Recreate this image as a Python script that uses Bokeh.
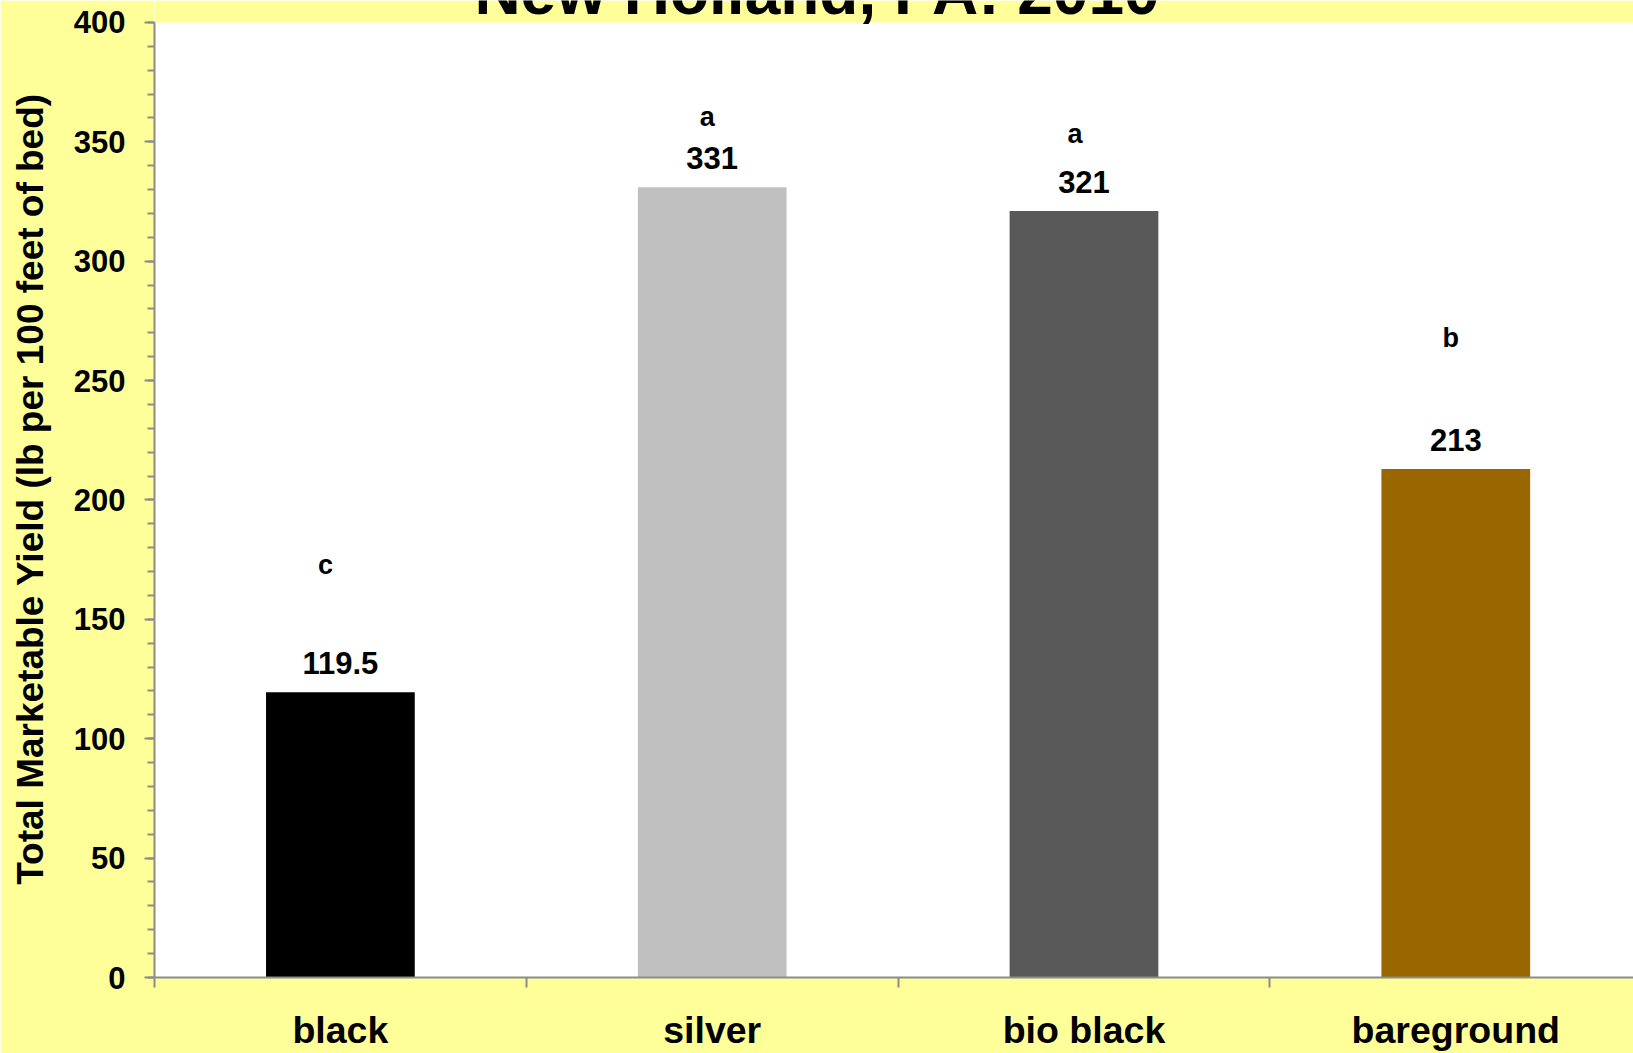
from bokeh.plotting import figure
from bokeh.models import (Range1d, FixedTicker, SingleIntervalTicker,
                          ColumnDataSource, Label, BoxAnnotation)
from bokeh.embed import file_html
from bokeh.resources import INLINE
from bokeh.core.properties import value

# ---- data ----
categories = ["black", "silver", "bio black", "bareground"]
yields = [119.5, 331, 321, 213]
value_labels = ["119.5", "331", "321", "213"]
letters = ["c", "a", "a", "b"]
letter_heights = [172.6, 360.4, 353.4, 268.0]
bar_colors = ["#000000", "#C0C0C0", "#595959", "#996600"]
title_text = "New Holland, PA: 2010"
y_label = "Total Marketable Yield (lb per 100 feet of bed)"
y_max = 400

FONT_NAME = "Liberation Sans"
FONT = value(FONT_NAME)
GRAY = "#8C8C8C"
BG = "#FFFF99"

W, H = 1633, 1053
BORDER_BOTTOM = 75
TOP_BAND = 22  # yellow band above the white plot area (title sits in it)

n = len(categories)
xs = [i + 0.5 for i in range(n)]
bounds = [i for i in range(n + 1)]

src = ColumnDataSource(dict(
    x=xs, y=yields, color=bar_colors, vlabel=value_labels,
    letter=letters, ly=letter_heights, lxo=[-15, -5, -9, -5],
))

# frame reaches the top edge; the band above y_max is painted yellow so the
# title (which is cut off by the top edge, as in the original) stays visible
frame_h = H - BORDER_BOTTOM
y_end = y_max * frame_h / (frame_h - TOP_BAND)

p = figure(width=W, height=H,
           x_range=Range1d(0, n - 0.022), y_range=Range1d(0, y_end),
           output_backend="svg", toolbar_location=None,
           min_border_left=154, min_border_right=0,
           min_border_top=0, min_border_bottom=BORDER_BOTTOM)
p.border_fill_color = BG
p.background_fill_color = "white"
p.outline_line_color = None
p.xgrid.visible = False
p.ygrid.visible = False

p.vbar(x="x", top="y", width=0.4, bottom=0, color="color",
       line_color=None, source=src)

p.text(x="x", y="y", text="vlabel", y_offset=-29, text_align="center",
       text_baseline="middle", text_font=FONT, text_font_style="bold",
       text_font_size="31px", text_color="black", source=src)
p.text(x="x", y="ly", text="letter", x_offset="lxo", text_align="center",
       text_baseline="middle", text_font=FONT, text_font_style="bold",
       text_font_size="27px", text_color="black", source=src)

p.add_layout(BoxAnnotation(bottom=y_max, fill_color=BG, fill_alpha=1.0,
                           line_color=None, level="underlay"))

# x axis
xa = p.xaxis[0]
xa.ticker = FixedTicker(ticks=xs, minor_ticks=bounds)
xa.major_label_overrides = {x: c for x, c in zip(xs, categories)}
xa.major_tick_out = 0
xa.major_tick_in = 0
xa.minor_tick_out = 10
xa.minor_tick_in = 0
xa.minor_tick_line_color = GRAY
xa.minor_tick_line_width = 2
xa.axis_line_color = GRAY
xa.axis_line_width = 2
xa.major_label_text_font = FONT_NAME
xa.major_label_text_font_style = "bold"
xa.major_label_text_font_size = "37.5px"
xa.major_label_text_color = "black"
xa.major_label_standoff = 21

# y axis
ya = p.yaxis[0]
ya.bounds = (0, y_max)
ya.ticker = SingleIntervalTicker(interval=50, num_minor_ticks=5)
ya.major_tick_out = 10
ya.major_tick_in = 0
ya.minor_tick_out = 7
ya.minor_tick_in = 0
ya.major_tick_line_color = GRAY
ya.minor_tick_line_color = GRAY
ya.major_tick_line_width = 2
ya.minor_tick_line_width = 2
ya.axis_line_color = GRAY
ya.axis_line_width = 2
ya.major_label_text_font = FONT_NAME
ya.major_label_text_font_style = "bold"
ya.major_label_text_font_size = "31px"
ya.major_label_text_color = "black"
ya.major_label_standoff = 19
ya.axis_label = y_label
ya.axis_label_text_font = FONT_NAME
ya.axis_label_text_font_style = "bold"
ya.axis_label_text_font_size = "37px"
ya.axis_label_text_color = "black"
ya.axis_label_standoff = 20

p.add_layout(Label(x=W / 2 - 154, y=y_max, x_units="screen", y_units="data",
                   y_offset=30,
                   text=title_text, text_align="center",
                   text_baseline="alphabetic", text_font=FONT_NAME,
                   text_font_style="bold", text_font_size="64px",
                   text_color="black"))

open("out.html", "w").write(file_html(p, INLINE))
